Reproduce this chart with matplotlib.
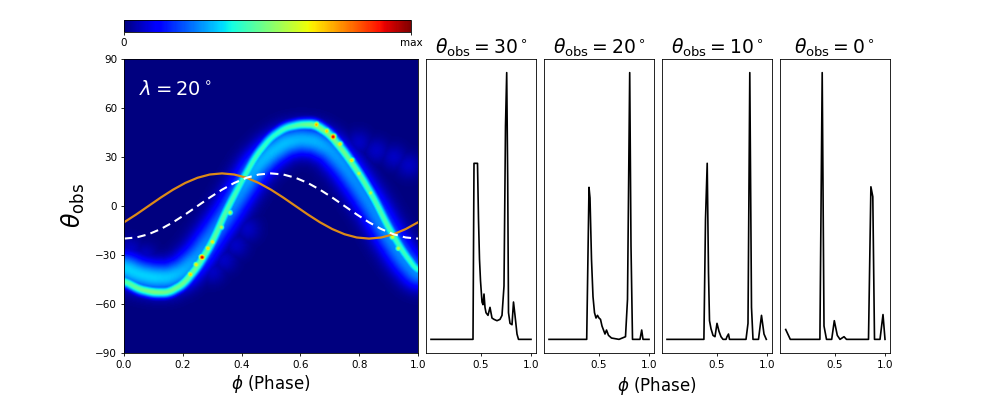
import numpy as np
import matplotlib
matplotlib.use("Agg")
from matplotlib import pyplot as plt

# ridge of the intensity map
knot_phase = [0.0, 0.05, 0.10, 0.15, 0.20, 0.25, 0.30, 0.35, 0.40, 0.45, 0.50,
              0.55, 0.60, 0.65, 0.70, 0.75, 0.80, 0.85, 0.90, 0.95, 1.0]
ridge_theta = [-46, -51, -53, -53, -48, -37, -22, -2, 15, 31, 42,
               48, 50, 50, 44, 33, 20, 5, -13, -28, -40]
ridge_level = [0.45, 0.47, 0.5, 0.48, 0.48, 0.47, 0.46, 0.44, 0.42, 0.42, 0.4,
               0.42, 0.46, 0.5, 0.5, 0.48, 0.46, 0.44, 0.44, 0.42, 0.4]
glow_theta = [-38, -42, -44, -44, -40, -31, -18, -5, 10, 24, 33,
              39, 41, 40, 35, 25, 12, -2, -18, -32, -42]
glow_level = [0.33, 0.33, 0.33, 0.32, 0.3, 0.27, 0.25, 0.25, 0.27, 0.3, 0.31,
              0.31, 0.3, 0.3, 0.28, 0.27, 0.26, 0.26, 0.26, 0.26, 0.26]

hot_phase = [0.225, 0.245, 0.265, 0.285, 0.30, 0.33, 0.36, 0.655, 0.69, 0.712, 0.735, 0.775, 0.80, 0.84, 0.915, 0.935]
hot_theta = [-42, -36, -31.5, -26, -22, -13, -4, 50, 46, 42.5, 38, 28, 20, 8, -19, -26]
hot_level = [0.72, 0.68, 0.95, 0.7, 0.68, 0.6, 0.58, 0.75, 0.72, 0.95, 0.7, 0.7, 0.62, 0.6, 0.65, 0.6]

faint_phase = [0.02, 0.07, 0.30, 0.34, 0.38, 0.42, 0.80, 0.86, 0.92, 0.97]
faint_theta = [-27, -31, -40, -33, -24, -14, 39, 34, 30, 25]

# model curves
curve_phase = [i / 24 for i in range(25)]
white_theta = [-20, -19.32, -17.32, -14.14, -10, -5.18, 0, 5.18, 10, 14.14, 17.32, 19.32, 20,
               19.32, 17.32, 14.14, 10, 5.18, 0, -5.18, -10, -14.14, -17.32, -19.32, -20]
orange_theta = [-10, -5.18, 0, 5.18, 10, 14.14, 17.32, 19.32, 20, 19.32, 17.32, 14.14, 10,
                5.18, 0, -5.18, -10, -14.14, -17.32, -19.32, -20, -19.32, -17.32, -14.14, -10]

# light curves at fixed theta_obs
lc_titles = [30, 20, 10, 0]
lc_phase = [
  [0.0, 0.42, 0.43, 0.465, 0.475, 0.485, 0.495, 0.51, 0.52, 0.53, 0.54, 0.55, 0.57, 0.59, 0.61, 0.63,
   0.66, 0.69, 0.71, 0.73, 0.745, 0.757, 0.767, 0.775, 0.79, 0.81, 0.825, 0.84, 0.86, 0.875, 1.0],
  [0.0, 0.377, 0.40, 0.41, 0.425, 0.44, 0.455, 0.47, 0.485, 0.50, 0.515, 0.53, 0.545, 0.56, 0.575,
   0.595, 0.625, 0.70, 0.765, 0.785, 0.807, 0.82, 0.835, 0.91, 0.927, 0.94, 1.0],
  [0.0, 0.369, 0.385, 0.402, 0.415, 0.425, 0.44, 0.46, 0.48, 0.50, 0.52, 0.54, 0.56, 0.59, 0.60,
   0.615, 0.625, 0.79, 0.81, 0.828, 0.845, 0.86, 0.915, 0.945, 0.97, 0.993],
  [0.007, 0.053, 0.349, 0.372, 0.39, 0.415, 0.467, 0.493, 0.523, 0.55, 0.59, 0.615, 0.835, 0.859,
   0.878, 0.895, 0.95, 0.98, 1.0],
]
lc_flux = [
  [0.0, 0.0, 0.66, 0.66, 0.45, 0.30, 0.22, 0.14, 0.13, 0.17, 0.12, 0.10, 0.09, 0.12, 0.08, 0.075,
   0.07, 0.075, 0.09, 0.20, 0.80, 1.0, 0.60, 0.10, 0.06, 0.055, 0.14, 0.09, 0.02, 0.0, 0.0],
  [0.0, 0.0, 0.57, 0.53, 0.30, 0.16, 0.10, 0.08, 0.09, 0.08, 0.075, 0.05, 0.035, 0.02, 0.035,
   0.015, 0.005, 0.0, 0.01, 0.15, 1.0, 0.35, 0.0, 0.0, 0.035, 0.0, 0.0],
  [0.0, 0.0, 0.45, 0.66, 0.25, 0.07, 0.04, 0.015, 0.01, 0.06, 0.03, 0.01, 0.0, 0.0, 0.01,
   0.02, 0.0, 0.0, 0.06, 1.0, 0.12, 0.0, 0.0, 0.09, 0.02, 0.0],
  [0.037, 0.0, 0.0, 1.0, 0.05, 0.0, 0.0, 0.07, 0.015, 0.0, 0.01, 0.0, 0.0, 0.572,
   0.535, 0.0, 0.0, 0.093, 0.0],
]

FIG_W, FIG_H = 989, 396
AX_BOTTOM, AX_TOP = 352.7, 59.3


def fig_rect(x0, x1, y0=AX_TOP, y1=AX_BOTTOM):
  return [x0 / FIG_W, 1 - y1 / FIG_H, (x1 - x0) / FIG_W, (y1 - y0) / FIG_H]


def smooth(v, n=25):
  pad = np.concatenate([np.full(n, v[0]), v, np.full(n, v[-1])])
  return np.convolve(pad, np.ones(n) / n, mode='same')[n:-n]


def build_map():
  phase_grid = np.linspace(0, 1, 300)
  theta_grid = np.linspace(-90, 90, 300)
  P, T = np.meshgrid(phase_grid, theta_grid)
  sx, sy = 294.0, 293.4 / 180.0  # pixels per unit

  def band(knot_theta, knot_level, sigma):
    fine = np.linspace(0, 1, 700)
    ft = smooth(np.interp(fine, knot_phase, knot_theta))
    fl = np.interp(fine, knot_phase, knot_level)
    best = np.full(P.shape, np.inf)
    lev = np.zeros(P.shape)
    for f, t, l in zip(fine, ft, fl):
      d = ((P - f) * sx) ** 2 + ((T - t) * sy) ** 2
      m = d < best
      best[m] = d[m]
      lev[m] = l
    return lev * np.exp(-best / (2 * sigma ** 2))

  img = np.maximum(band(ridge_theta, ridge_level, 4.0), band(glow_theta, glow_level, 11.0))
  for f, t in zip(faint_phase, faint_theta):
    d = ((P - f) * sx) ** 2 + ((T - t) * sy) ** 2
    img = np.maximum(img, 0.06 * np.exp(-d / (2 * 9.0 ** 2)))
  for f, t, l in zip(hot_phase, hot_theta, hot_level):
    d = ((P - f) * sx) ** 2 + ((T - t) * sy) ** 2
    img = np.maximum(img, l * np.exp(-d / (2 * 2.6 ** 2)))
  return img


plt.rcParams['mathtext.fontset'] = 'dejavusans'
fig = plt.figure(figsize=(FIG_W / 100, FIG_H / 100), dpi=100)

ax = fig.add_axes(fig_rect(124, 418))
im = ax.imshow(build_map(), extent=[0, 1, -90, 90], origin='lower', aspect='auto',
               cmap='jet', vmin=0, vmax=1, interpolation='bilinear')
ax.plot(curve_phase, orange_theta, color='#dd8a17', lw=1.6)
ax.plot(curve_phase, white_theta, color='white', lw=1.5, ls=(0, (4, 2.5)))
ax.set_xlim(0, 1)
ax.set_ylim(-90, 90)
ax.set_xticks([0, 0.2, 0.4, 0.6, 0.8, 1.0])
ax.set_yticks([-90, -60, -30, 0, 30, 60, 90])
ax.tick_params(labelsize=7.5, length=2.5, width=0.6, pad=2.5)
ax.set_xlabel(r'$\phi$ (Phase)', fontsize=12)
ax.xaxis.set_label_coords(0.5, -0.07)
ax.set_ylabel(r'$\theta_{\rm obs}$', fontsize=17)
ax.yaxis.set_label_coords(-0.125, 0.5)
ax.text(0.05, 0.93, r'$\lambda=20^\circ$', transform=ax.transAxes, color='white',
        fontsize=14, va='top', ha='left')
for s in ax.spines.values():
  s.set_linewidth(0.6)

cax = fig.add_axes(fig_rect(124, 411, 19.5, 32))
cb = fig.colorbar(im, cax=cax, orientation='horizontal', ticks=[0, 1])
cb.ax.set_xticklabels(['0', 'max'])
cb.ax.tick_params(labelsize=7.5, length=2.5, width=0.6, pad=2)
cb.outline.set_linewidth(0.6)

for i, left in enumerate([426, 544, 662, 780]):
  a = fig.add_axes(fig_rect(left, left + 110))
  a.plot(lc_phase[i], lc_flux[i], color='black', lw=1.2)
  a.set_xlim(-0.05, 1.05)
  a.set_ylim(-0.05, 1.05)
  a.set_xticks([0.5, 1.0])
  a.set_yticks([])
  a.tick_params(labelsize=7.5, length=2.5, width=0.6, pad=2.5)
  a.set_title(r'$\theta_{\rm obs}=%d^\circ$' % lc_titles[i], fontsize=13.5, pad=3)
  for s in a.spines.values():
    s.set_linewidth(0.6)

fig.text(656.7 / FIG_W, 1 - 375 / FIG_H, r'$\phi$ (Phase)', fontsize=12, ha='center', va='top')

fig.savefig('out.png', dpi=100)
